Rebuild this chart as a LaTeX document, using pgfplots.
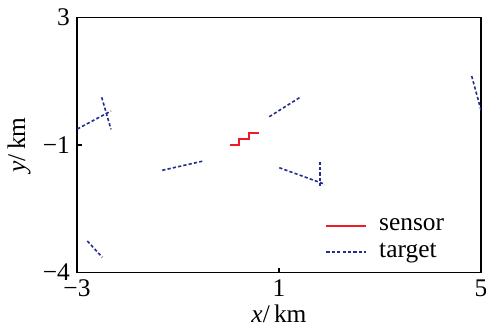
\documentclass[border=0pt]{standalone}
\usepackage{pgfplots}
\pgfplotsset{compat=1.18}
\usepackage{fontspec}
\setmainfont{Liberation Serif}
\definecolor{sred}{RGB}{235,30,40}
\definecolor{tblue}{RGB}{35,45,145}
\begin{document}
\begin{tikzpicture}
\useasboundingbox (-38.5pt,-27.25pt) rectangle (204.5pt,136.25pt);
\begin{axis}[
  at={(0pt,0pt)}, anchor=south west,
  scale only axis,
  width=202pt, height=127.5pt,
  xmin=-3, xmax=5, ymin=-4, ymax=3,
  xtick={-3,1,5}, xticklabels={−3,1,5},
  ytick={-4,-0.5,3}, yticklabels={−4,−1,3},
  tick pos=left, tick align=inside,
  major tick length=2.5pt,
  axis line style={line width=0.8pt},
  every tick/.style={black, line width=0.8pt},
  font=\fontsize{12.7}{15}\selectfont,
  tick label style={font=\fontsize{12.7}{15}\selectfont},
  xlabel={\textit{x}/\,km}, ylabel={\textit{y}/\,km},
  xlabel style={at={(axis description cs:0.5,-0.163)}, anchor=center},
  ylabel style={at={(axis description cs:-0.1436,0.5)}, anchor=center},
  legend style={draw=none, fill=none, at={(axis description cs:0.609,0.129)}, anchor=west,
    font=\fontsize{12.7}{15}\selectfont, row sep=1pt, inner sep=1pt},
  legend cell align=left,
  legend image code/.code={\draw[#1] (0pt,0pt) -- (20pt,0pt); \path (24pt,0pt);},
  clip=true,
]
\addplot[sred, line width=0.9pt] coordinates {
 (0.02,-0.50) (0.21,-0.50) (0.21,-0.335) (0.41,-0.335) (0.41,-0.162) (0.61,-0.162)};
\addlegendentry{sensor}
\addplot[tblue, line width=0.8pt, dash pattern=on 1.6pt off 1.1pt] coordinates {(-2.994,-0.061) (-2.327,0.433)};
\addlegendentry{target}
\addplot[tblue, line width=0.8pt, dash pattern=on 1.6pt off 1.1pt, forget plot] coordinates {(-2.511,0.81) (-2.327,-0.069)};
\addplot[tblue, line width=0.8pt, dash pattern=on 1.6pt off 1.1pt, forget plot] coordinates {(-1.311,-1.194) (-0.499,-0.939)};
\addplot[tblue, line width=0.8pt, dash pattern=on 1.6pt off 1.1pt, forget plot] coordinates {(0.808,0.277) (1.436,0.826)};
\addplot[tblue, line width=0.8pt, dash pattern=on 1.6pt off 1.1pt, forget plot] coordinates {(4.816,1.394) (5.014,0.387)};
\addplot[tblue, line width=0.8pt, dash pattern=on 1.6pt off 1.1pt, forget plot] coordinates {(1.006,-1.123) (1.911,-1.579)};
\addplot[tblue, line width=0.8pt, dash pattern=on 1.6pt off 1.1pt, forget plot] coordinates {(1.812,-0.958) (1.812,-1.645)};
\addplot[tblue, line width=0.8pt, dash pattern=on 1.6pt off 1.1pt, forget plot] coordinates {(-2.796,-3.135) (-2.499,-3.583)};
\end{axis}
\end{tikzpicture}
\end{document}
